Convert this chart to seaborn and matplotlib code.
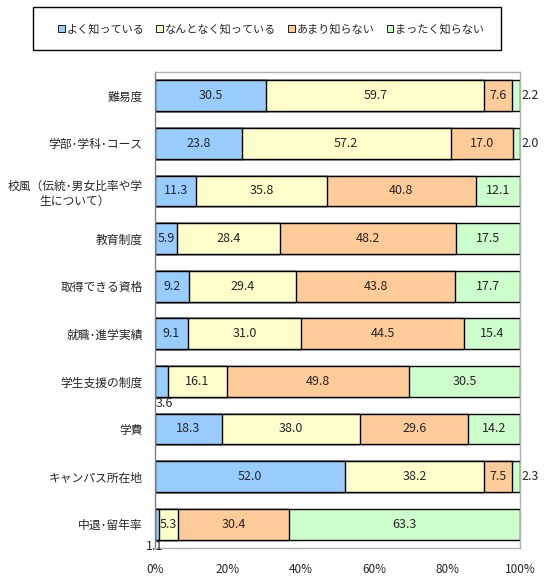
import matplotlib
matplotlib.use("Agg")
import matplotlib.pyplot as plt
from matplotlib.patches import Patch, Rectangle
import seaborn as sns
import numpy as np

categories = ["難易度", "学部･学科･コース", "校風（伝統･男女比率や学\n生について）", "教育制度",
              "取得できる資格", "就職･進学実績", "学生支援の制度", "学費",
              "キャンパス所在地", "中退･留年率"]
series_names = ["よく知っている", "なんとなく知っている", "あまり知らない", "まったく知らない"]
well_known = [30.5, 23.8, 11.3, 5.9, 9.2, 9.1, 3.6, 18.3, 52.0, 1.1]
somewhat_known = [59.7, 57.2, 35.8, 28.4, 29.4, 31.0, 16.1, 38.0, 38.2, 5.3]
little_known = [7.6, 17.0, 40.8, 48.2, 43.8, 44.5, 49.8, 29.6, 7.5, 30.4]
not_known = [2.2, 2.0, 12.1, 17.5, 17.7, 15.4, 30.5, 14.2, 2.3, 63.3]
colors = ["#99CCFF", "#FFFFCC", "#FFCC99", "#CCFFCC"]

sns.set_theme(style="white")
plt.rcParams["font.family"] = ["Noto Sans CJK JP", "DejaVu Sans"]

vals = np.array([well_known, somewhat_known, little_known, not_known])
# 100% stacked: scale each row to its total
pct = vals / vals.sum(axis=0) * 100
cum = np.cumsum(pct, axis=0)

fig = plt.figure(figsize=(5.5, 5.8), dpi=100)
ax = fig.add_axes([155 / 550, 1 - 548 / 580, 365 / 550, 476 / 580])

# draw from the full stack down so earlier series sit on top
for i in range(3, -1, -1):
    sns.barplot(x=cum[i], y=categories, color=colors[i], orient="h", width=0.65,
                saturation=1, edgecolor="black", linewidth=1, ax=ax)

for i in range(4):
    for j, cat in enumerate(categories):
        v = vals[i, j]
        left = cum[i, j] - pct[i, j]
        if i == 3 and v < 3:
            ax.text(100.5, j, f"{v:.1f}", ha="left", va="center", fontsize=9)
        elif i == 0 and v < 4:
            ax.text(left + 0.3 if v > 2 else left, j + 0.47, f"{v:.1f}",
                    ha="left" if v > 2 else "center", va="center", fontsize=9)
        else:
            ax.text(left + pct[i, j] / 2, j, f"{v:.1f}", ha="center", va="center", fontsize=9)

ax.set_xlim(0, 100)
ax.set_ylim(len(categories) - 0.5, -0.5)
ax.set_xticks(range(0, 101, 20))
ax.set_xticklabels([f"{t}%" for t in range(0, 101, 20)], fontsize=8.5)
ax.tick_params(axis="x", length=0, pad=11)
ax.tick_params(axis="y", length=0, pad=9)
for lab in ax.get_yticklabels():
    lab.set_fontsize(8.5)
    lab.set_multialignment("center")
ax.set_xlabel("")
ax.set_ylabel("")
for side in ["top", "right", "bottom"]:
    ax.spines[side].set_color("#B0B0B0")
ax.spines["left"].set_color("#808080")
for s in ax.spines.values():
    s.set_linewidth(1)

# legend box
fig.patches.append(Rectangle((33 / 550, 1 - 50 / 580), 468 / 550, 43 / 580,
                             transform=fig.transFigure, facecolor="white",
                             edgecolor="black", linewidth=1, zorder=0))
handles = [Patch(facecolor=c, edgecolor="black", linewidth=0.6) for c in colors]
fig.legend(handles, series_names, loc="center", ncol=4, mode="expand",
           bbox_to_anchor=(58 / 550, 1 - 42 / 580, 426 / 550, 26 / 580),
           fontsize=8, frameon=False,
           handlelength=0.6, handleheight=0.6, handletextpad=0.15, borderpad=0,
           borderaxespad=0)

fig.savefig("out.png", dpi=100)
